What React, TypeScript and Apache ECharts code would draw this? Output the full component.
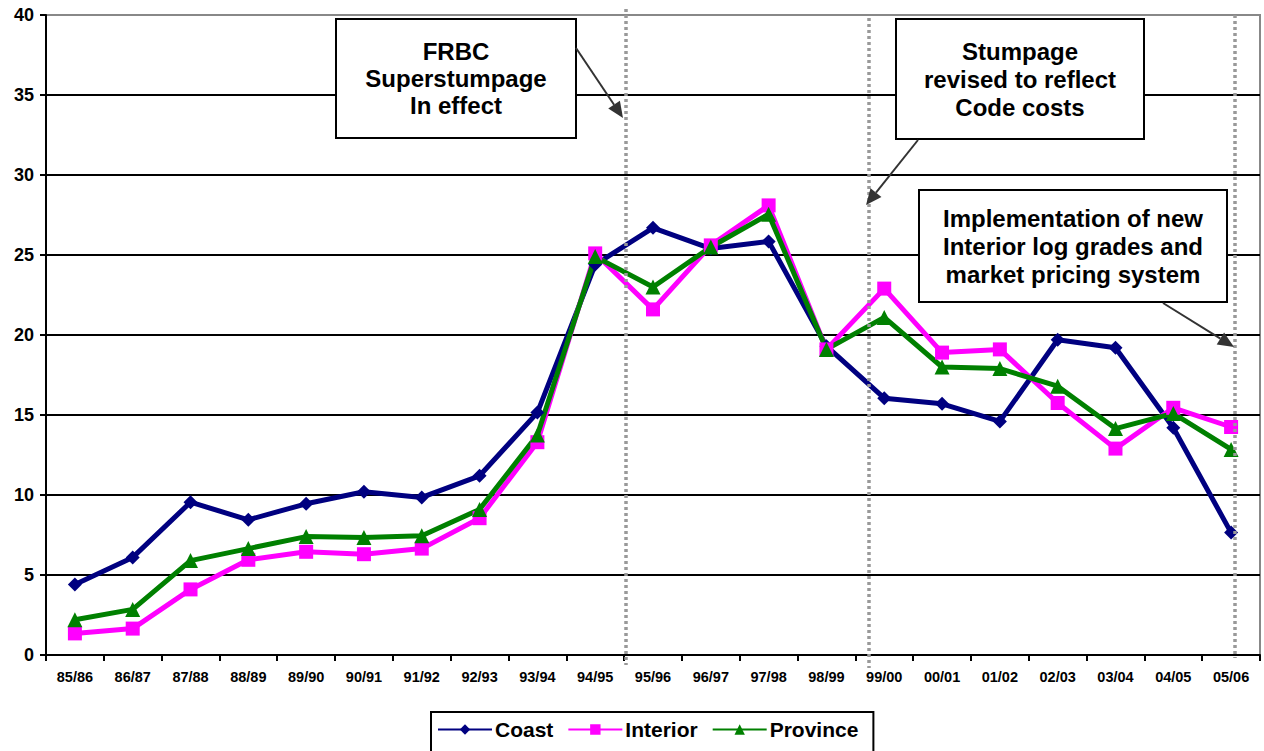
import React, { useEffect, useRef } from "react";
import * as echarts from "echarts";

const categories = ["85/86","86/87","87/88","88/89","89/90","90/91","91/92","92/93","93/94","94/95","95/96","96/97","97/98","98/99","99/00","00/01","01/02","02/03","03/04","04/05","05/06"];
const coast = [4.4, 6.1, 9.55, 8.45, 9.45, 10.2, 9.85, 11.2, 15.15, 24.4, 26.7, 25.4, 25.85, 19.3, 16.05, 15.7, 14.6, 19.7, 19.2, 14.2, 7.65];
const interior = [1.35, 1.65, 4.1, 5.95, 6.45, 6.3, 6.65, 8.55, 13.3, 25.1, 21.6, 25.6, 28.1, 19.1, 22.9, 18.9, 19.1, 15.75, 12.9, 15.45, 14.25];
const province = [2.2, 2.85, 5.9, 6.65, 7.4, 7.35, 7.45, 9.1, 13.75, 24.9, 23.0, 25.5, 27.55, 19.1, 21.1, 18.0, 17.9, 16.8, 14.15, 15.1, 12.85];
const yTicks = { min: 0, max: 40, interval: 5 };

const FONT = "'Liberation Sans', Arial, sans-serif";

function arrow(x1: number, y1: number, x2: number, y2: number) {
  const ang = Math.atan2(y2 - y1, x2 - x1);
  const len = 16, half = 7;
  const bx = x2 - len * Math.cos(ang), by = y2 - len * Math.sin(ang);
  const px = -Math.sin(ang) * half, py = Math.cos(ang) * half;
  return [
    { type: "line", shape: { x1, y1, x2: bx, y2: by }, style: { stroke: "#333", lineWidth: 2 }, z: 20 },
    { type: "polygon", shape: { points: [[x2, y2], [bx + px, by + py], [bx - px, by - py]] }, style: { fill: "#333" }, z: 20 },
  ];
}

function box(x: number, y: number, w: number, h: number, lines: string[], lineH: number) {
  const els: any[] = [
    { type: "rect", shape: { x, y, width: w, height: h }, style: { fill: "#fff", stroke: "#000", lineWidth: 2 }, z: 15 },
  ];
  const startY = y + h / 2 - ((lines.length - 1) * lineH) / 2;
  lines.forEach((t, i) => {
    els.push({
      type: "text", x: x + w / 2, y: startY + i * lineH, z: 16,
      style: { text: t, font: `bold 24px ${FONT}`, fill: "#000", align: "center", verticalAlign: "middle" },
    });
  });
  return els;
}

function vline(x: number, y1: number, y2: number) {
  return { type: "line", shape: { x1: x, y1, x2: x, y2 }, style: { stroke: "#999", lineWidth: 3.5, lineDash: [3, 3] }, z: 14 };
}

export default function App() {
  const ref = useRef<HTMLDivElement>(null);
  useEffect(() => {
    if (!ref.current) return;
    const chart = echarts.init(ref.current, undefined, { renderer: "svg" });
    const lineSeries = (name: string, data: number[], color: string, symbol: string, size: number) => ({
      name, type: "line", data, symbol, symbolSize: size,
      lineStyle: { color, width: 5 }, itemStyle: { color },
      z: 5,
    });
    const splitColors = ["#000", "#000", "#000", "#000", "#000", "#000", "#000", "#000", "#888"];
    chart.setOption({
      animation: false,
      textStyle: { fontFamily: FONT },
      grid: { left: 46, right: 4, top: 15, bottom: 96, show: true, borderColor: "#888", borderWidth: 2 },
      xAxis: {
        type: "category", data: categories, boundaryGap: true,
        axisLine: { lineStyle: { color: "#000", width: 2 } },
        axisTick: { show: true, length: 6, lineStyle: { color: "#000", width: 2 } },
        axisLabel: { color: "#000", fontWeight: "bold", fontSize: 14.5, margin: 14, fontFamily: FONT, interval: 0 },
      },
      yAxis: {
        type: "value", min: yTicks.min, max: yTicks.max, interval: yTicks.interval,
        axisLine: { show: true, lineStyle: { color: "#000", width: 2 } },
        axisTick: { show: true, length: 6, lineStyle: { color: "#000", width: 2 } },
        axisLabel: { color: "#000", fontWeight: "bold", fontSize: 18, margin: 12, fontFamily: FONT },
        splitLine: { show: true, lineStyle: { color: splitColors, width: 2 } },
      },
      legend: {
        top: 712, left: 431,
        padding: [7, 15, 12, 6],
        borderColor: "#000", borderWidth: 2,
        itemWidth: 54, itemHeight: 13, itemGap: 14,
        textStyle: { color: "#000", fontWeight: "bold", fontSize: 21, fontFamily: FONT, padding: [0, 0, 0, -2] },
        data: ["Coast", "Interior", "Province"],
      },
      series: [
        lineSeries("Coast", coast, "#000080", "diamond", 14),
        lineSeries("Interior", interior, "#FF00FF", "rect", 14),
        lineSeries("Province", province, "#008000", "triangle", 15),
      ],
      graphic: [
        vline(626, 9, 665),
        vline(869, 18, 668),
        vline(1235, 15, 658),
        ...box(336, 19, 240, 119, ["FRBC", "Superstumpage", "In effect"], 27),
        ...box(896, 19, 248, 120, ["Stumpage", "revised to reflect", "Code costs"], 28),
        ...box(919, 190, 308, 112, ["Implementation of new", "Interior log grades and", "market pricing system"], 28),
        ...arrow(576, 48, 623, 118),
        ...arrow(918, 140, 866, 205),
        ...arrow(1163, 303, 1234, 347),
      ],
    });
    return () => chart.dispose();
  }, []);
  return <div ref={ref} style={{ position: "fixed", left: 0, top: 0, width: 1264, height: 751, background: "#fff" }} />;
}
